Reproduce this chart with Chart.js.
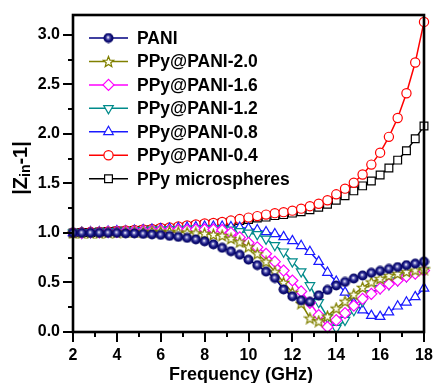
<!DOCTYPE html>
<html><head><meta charset="utf-8">
<script src="https://cdn.jsdelivr.net/npm/chart.js@4.4.1/dist/chart.umd.min.js"></script>
<style>html,body{margin:0;padding:0;background:#fff;}#wrap{width:435px;height:383px;}</style>
</head><body><div id="wrap"><canvas id="c" width="435" height="383"></canvas></div>
<script>
const frequencyGHz = [2.0,2.4,2.8,3.2,3.6,4.0,4.4,4.8,5.2,5.6,6.0,6.4,6.8,7.2,7.6,8.0,8.4,8.8,9.2,9.6,10.0,10.4,10.8,11.2,11.6,12.0,12.4,12.8,13.2,13.6,14.0,14.4,14.8,15.2,15.6,16.0,16.4,16.8,17.2,17.6,18.0];
const seriesNames = ['PANI','PPy@PANI-2.0','PPy@PANI-1.6','PPy@PANI-1.2','PPy@PANI-0.8','PPy@PANI-0.4','PPy microspheres'];
const pani = [1.00,1.00,1.00,1.00,1.00,1.00,0.995,0.995,0.99,0.985,0.98,0.97,0.96,0.95,0.935,0.915,0.885,0.85,0.815,0.78,0.73,0.675,0.61,0.545,0.43,0.36,0.32,0.305,0.37,0.425,0.47,0.505,0.54,0.57,0.597,0.617,0.637,0.655,0.675,0.69,0.71];
const ppyPani20 = [1.00,1.00,1.00,1.00,1.005,1.005,1.01,1.01,1.01,1.015,1.015,1.015,1.01,1.005,1.00,0.995,0.985,0.975,0.945,0.91,0.86,0.79,0.71,0.61,0.50,0.40,0.29,0.14,0.11,0.16,0.24,0.31,0.38,0.45,0.505,0.54,0.57,0.59,0.61,0.625,0.635];
const ppyPani16 = [1.00,1.00,1.005,1.005,1.01,1.01,1.015,1.015,1.02,1.02,1.025,1.025,1.03,1.03,1.035,1.035,1.035,1.03,1.00,0.955,0.90,0.855,0.79,0.71,0.62,0.52,0.41,0.295,0.17,0.05,0.12,0.19,0.265,0.335,0.385,0.44,0.485,0.52,0.56,0.59,0.62];
const ppyPani12 = [1.00,1.00,1.005,1.01,1.01,1.015,1.02,1.02,1.025,1.03,1.03,1.035,1.04,1.04,1.045,1.045,1.045,1.04,1.03,1.015,1.00,0.985,0.94,0.875,0.81,0.71,0.61,0.47,0.30,0.15,0.04,0.12,0.22,0.31,0.39,0.44,0.48,0.52,0.56,0.595,0.625];
const ppyPani08 = [1.00,1.005,1.01,1.01,1.015,1.02,1.02,1.025,1.03,1.035,1.04,1.045,1.05,1.055,1.06,1.065,1.065,1.065,1.06,1.055,1.045,1.03,1.01,0.99,0.96,0.92,0.87,0.81,0.71,0.60,0.51,0.40,0.29,0.22,0.165,0.155,0.20,0.26,0.30,0.355,0.44];
const ppyPani04 = [1.00,1.005,1.01,1.01,1.015,1.02,1.025,1.03,1.035,1.04,1.05,1.055,1.065,1.075,1.085,1.095,1.10,1.11,1.125,1.14,1.155,1.17,1.185,1.20,1.21,1.225,1.245,1.27,1.295,1.33,1.39,1.447,1.507,1.59,1.69,1.81,1.97,2.16,2.41,2.72,3.13];
const ppyMicro = [1.00,1.005,1.005,1.01,1.015,1.02,1.02,1.025,1.03,1.035,1.04,1.045,1.055,1.065,1.075,1.085,1.09,1.10,1.11,1.125,1.135,1.15,1.16,1.175,1.185,1.20,1.215,1.235,1.26,1.29,1.33,1.375,1.425,1.475,1.525,1.585,1.655,1.735,1.83,1.95,2.08];
const xTickValues = [2,4,6,8,10,12,14,16,18];
const yTickValues = [0.0,0.5,1.0,1.5,2.0,2.5,3.0];

function makeBall(){
  const c=document.createElement('canvas'); c.width=c.height=11;
  const x=c.getContext('2d');
  const g=x.createRadialGradient(5,4.8,0.3,5.5,5.5,5.3);
  g.addColorStop(0,'#ffffff'); g.addColorStop(0.22,'#7070c0'); g.addColorStop(0.55,'#14147e'); g.addColorStop(1,'#00005a');
  x.fillStyle=g; x.beginPath(); x.arc(5.5,5.5,5,0,Math.PI*2); x.fill();
  return c;
}
function makeStar(){
  const c=document.createElement('canvas'); c.width=c.height=13;
  const x=c.getContext('2d');
  x.beginPath();
  for(let k=0;k<10;k++){const r=k%2?2.4:5.6;const a=-Math.PI/2+k*Math.PI/5;const px=6.5+r*Math.cos(a),py=7+r*Math.sin(a);k?x.lineTo(px,py):x.moveTo(px,py);}
  x.closePath(); x.fillStyle='#fffff0'; x.fill(); x.strokeStyle='#808000'; x.lineWidth=1.2; x.stroke();
  return c;
}
const ball=makeBall(), star=makeStar();

const styles = [
  {color:'#000080', pointStyle:ball, radius:5, fill:'#000080', rot:0},
  {color:'#808000', pointStyle:star, radius:5, fill:'#fff', rot:0},
  {color:'#FF00FF', pointStyle:'rectRot', radius:5.5, fill:'#fff', rot:0},
  {color:'#008B8B', pointStyle:'triangle', radius:5.5, fill:'#fff', rot:180},
  {color:'#1a1aff', pointStyle:'triangle', radius:5.5, fill:'#fff', rot:0},
  {color:'#FF0000', pointStyle:'circle', radius:4.6, fill:'#fff', rot:0},
  {color:'#000000', pointStyle:'rect', radius:5.5, fill:'#fff', rot:0}
];
const values = [pani,ppyPani20,ppyPani16,ppyPani12,ppyPani08,ppyPani04,ppyMicro];
const datasets = values.map((v,i)=>({
  label: seriesNames[i],
  data: frequencyGHz.map((f,j)=>({x:f,y:v[j]})),
  borderColor: styles[i].color, backgroundColor: styles[i].fill,
  pointBorderColor: styles[i].color, pointBackgroundColor: styles[i].fill,
  pointStyle: styles[i].pointStyle, pointRadius: styles[i].radius, pointRotation: styles[i].rot,
  pointBorderWidth: 1.2, borderWidth: 1.5, tension: 0, clip: false
}));

const FONT = '"Liberation Sans", Arial, sans-serif';
const framePlugin = {
  id:'frame',
  afterDraw(chart){
    const ctx=chart.ctx, a=chart.chartArea, xs=chart.scales.x, ys=chart.scales.y;
    ctx.save();
    ctx.strokeStyle='#000'; ctx.lineWidth=2.6;
    ctx.strokeRect(a.left,a.top,a.right-a.left,a.bottom-a.top);
    ctx.lineWidth=2;
    for(let v=0; v<=3.001; v+=0.25){
      const y=Math.round(ys.getPixelForValue(v));
      const major=Math.abs(v*2-Math.round(v*2))<1e-6;
      ctx.beginPath(); ctx.moveTo(a.left,y); ctx.lineTo(a.left-(major?10:5),y); ctx.stroke();
    }
    for(let v=2; v<=18; v+=1){
      const x=Math.round(xs.getPixelForValue(v));
      const major=v%2===0;
      ctx.beginPath(); ctx.moveTo(x,a.bottom); ctx.lineTo(x,a.bottom+(major?10:5)); ctx.stroke();
    }
    ctx.fillStyle='#000';
    ctx.font='bold 18px '+FONT; ctx.textAlign='center'; ctx.textBaseline='alphabetic';
    ctx.fillText('Frequency (GHz)',241,380);
    ctx.save();
    ctx.translate(21,168); ctx.rotate(-Math.PI/2);
    const big='bold 20px '+FONT, small='bold 14px '+FONT;
    ctx.font=big; const w1=ctx.measureText('|Z').width, w3=ctx.measureText('-1|').width;
    ctx.font=small; const w2=ctx.measureText('in').width;
    let x0=-(w1+w2+w3)/2;
    ctx.textAlign='left'; ctx.textBaseline='middle';
    ctx.font=big; ctx.fillText('|Z',x0,0); x0+=w1;
    ctx.font=small; ctx.fillText('in',x0,5); x0+=w2;
    ctx.font=big; ctx.fillText('-1|',x0,0);
    ctx.restore();
    const ly0=38, dy=23.45;
    chart.data.datasets.forEach((d,i)=>{
      const y=ly0+i*dy;
      ctx.strokeStyle=d.borderColor; ctx.lineWidth=1.5;
      ctx.beginPath(); ctx.moveTo(89,y); ctx.lineTo(128,y); ctx.stroke();
      ctx.fillStyle=d.pointBackgroundColor; ctx.strokeStyle=d.pointBorderColor; ctx.lineWidth=1.2;
      Chart.helpers.drawPoint(ctx,{pointStyle:d.pointStyle,radius:d.pointRadius,rotation:d.pointRotation,borderWidth:1.2},108.5,y);
      ctx.fillStyle='#000'; ctx.font='bold 17.5px '+FONT; ctx.textAlign='left'; ctx.textBaseline='middle';
      ctx.fillText(d.label,137,y+1);
    });
    ctx.restore();
  }
};

new Chart(document.getElementById('c'),{
  type:'line',
  data:{datasets},
  options:{
    responsive:false, animation:false, devicePixelRatio:1,
    layout:{padding:{left:0,right:11,top:15,bottom:0}},
    plugins:{legend:{display:false},tooltip:{enabled:false}},
    scales:{
      x:{type:'linear',min:2,max:18,
        afterFit:s=>{s.height=51;s.paddingLeft=0;s.paddingRight=0;s.paddingTop=0;s.paddingBottom=0;},
        afterBuildTicks:s=>{s.ticks=xTickValues.map(v=>({value:v}));},
        grid:{display:false,drawTicks:false}, border:{display:false},
        ticks:{padding:14,color:'#000',font:{family:FONT,size:16,weight:'bold'},maxRotation:0,autoSkip:false,callback:v=>String(v)}},
      y:{type:'linear',min:0,max:3.2,
        afterFit:s=>{s.width=73;s.paddingLeft=0;s.paddingRight=0;s.paddingTop=0;s.paddingBottom=0;},
        afterBuildTicks:s=>{s.ticks=yTickValues.map(v=>({value:v}));},
        grid:{display:false,drawTicks:false}, border:{display:false},
        ticks:{padding:13,color:'#000',font:{family:FONT,size:16,weight:'bold'},autoSkip:false,callback:v=>Number(v).toFixed(1)}}
    }
  },
  plugins:[framePlugin]
});
</script></body></html>
